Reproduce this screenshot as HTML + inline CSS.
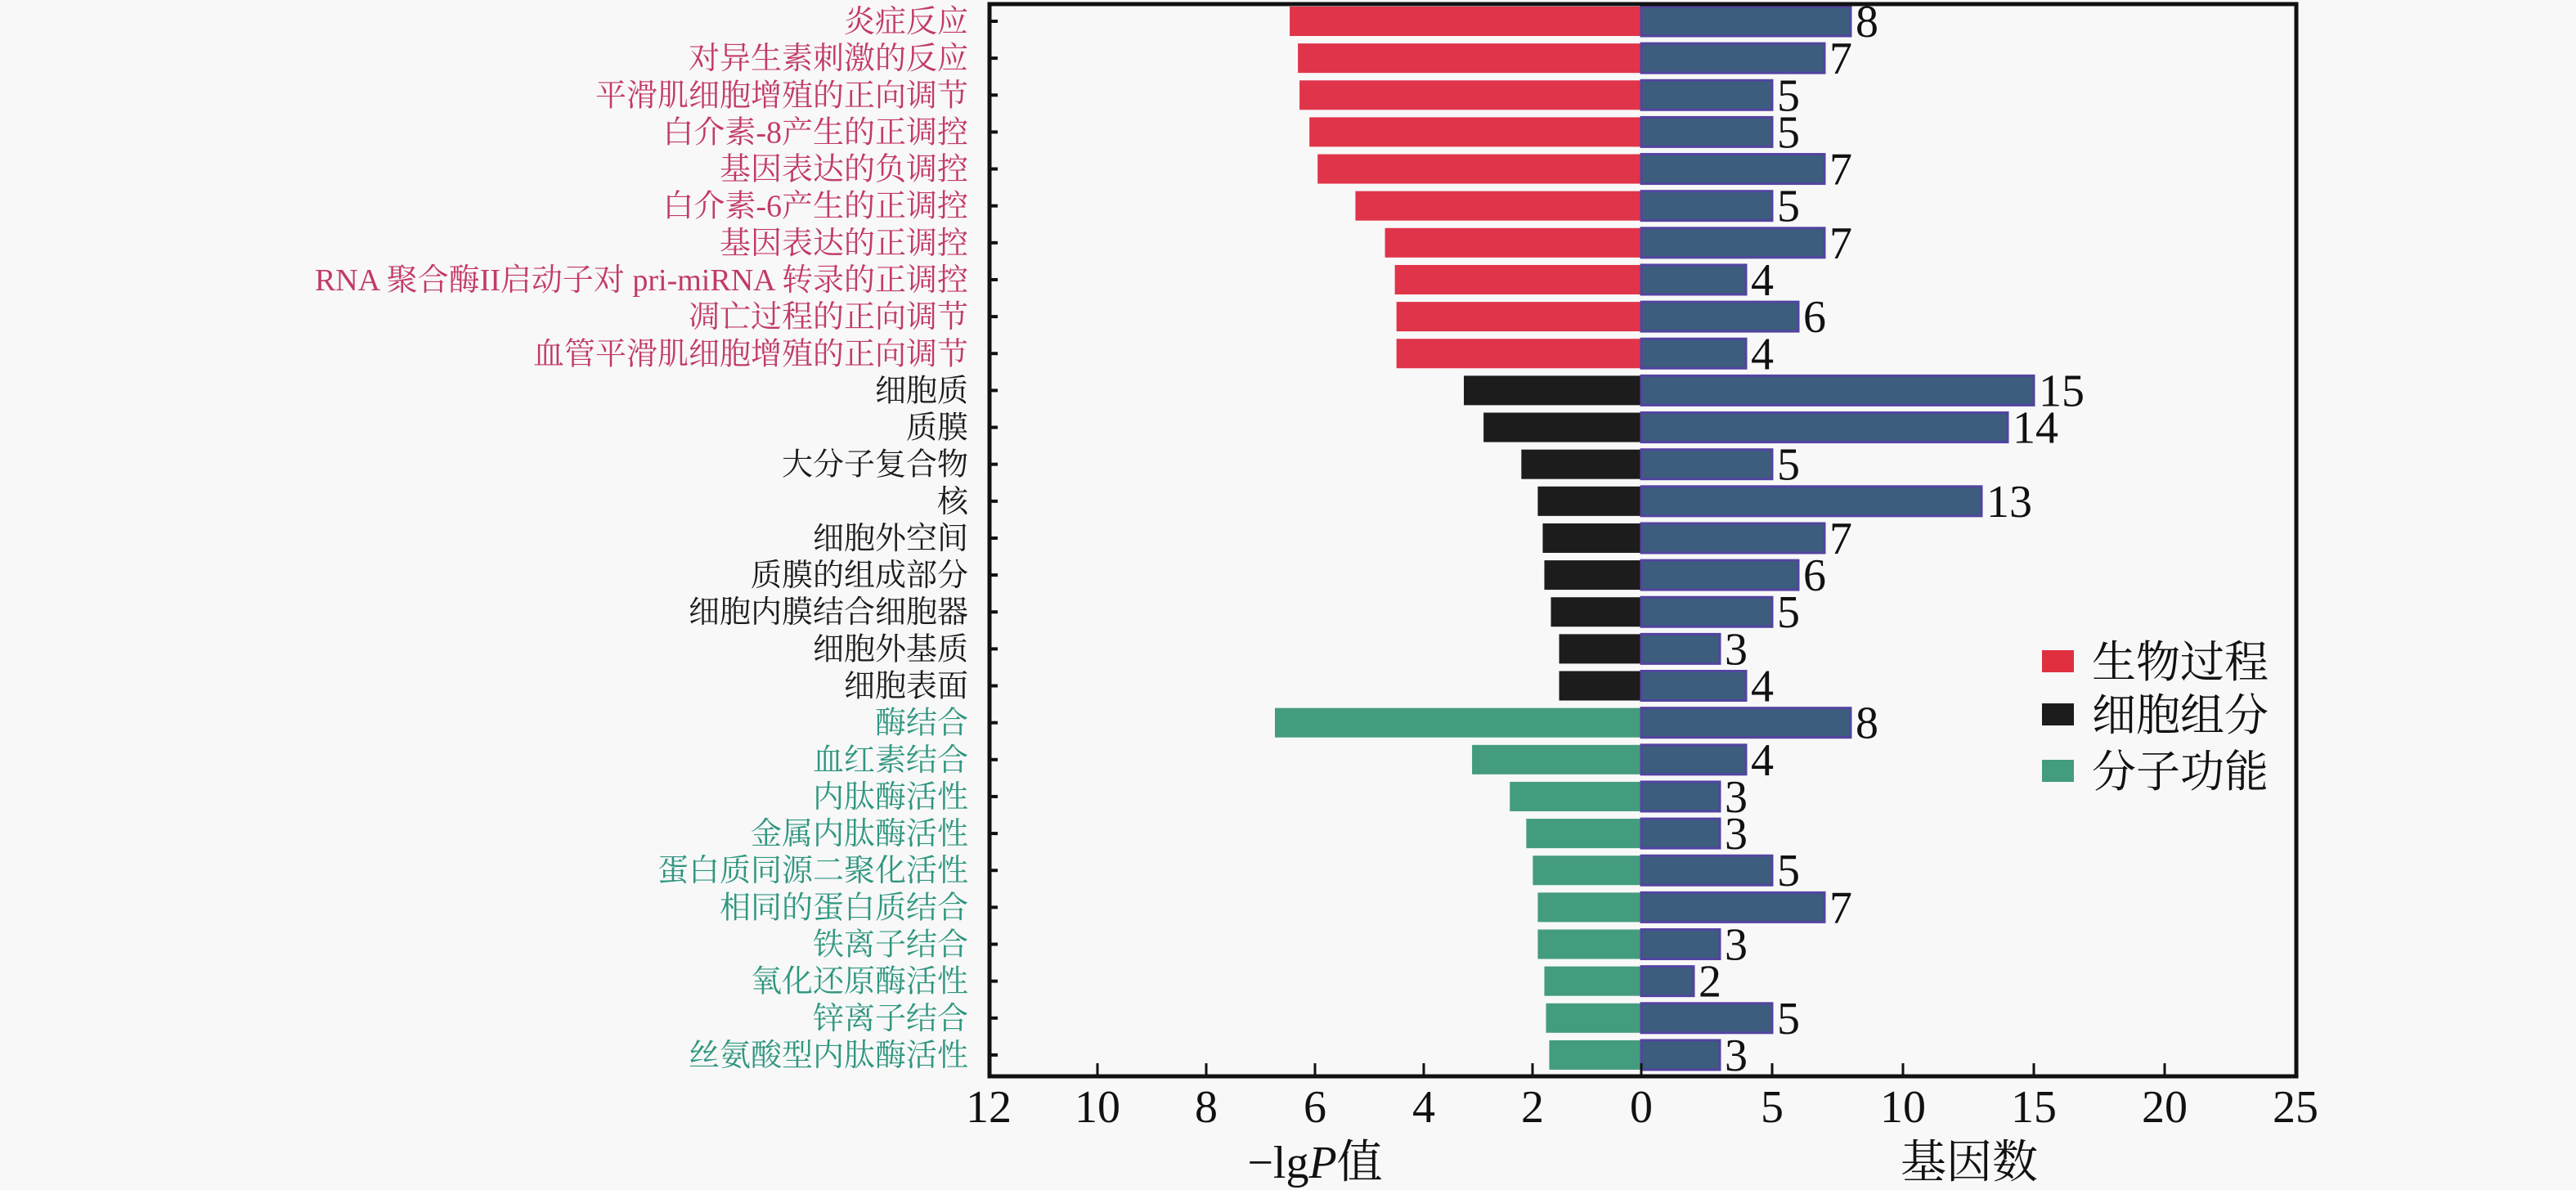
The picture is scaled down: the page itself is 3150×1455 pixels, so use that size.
<!DOCTYPE html>
<html><head><meta charset="utf-8"><style>
html,body{margin:0;padding:0;background:#f8f8f8;}
svg{display:block;}
</style></head><body>
<svg width="3150" height="1455" viewBox="0 0 3150 1455" xmlns="http://www.w3.org/2000/svg">
<rect x="0" y="0" width="3150" height="1455" fill="#f8f8f8"/>
<g id="bars"></g>
<rect x="1210" y="5" width="1598" height="1311" fill="none" stroke="#111" stroke-width="5"/>
<g id="ticks" stroke="#111" stroke-width="3"></g>
<g id="tl" font-family="'Liberation Serif', serif" font-size="56" fill="#111" text-anchor="middle"></g>
<text x="1608" y="1440" font-family="'Liberation Serif', 'Noto Serif CJK SC', serif" font-size="56" text-anchor="middle" fill="#111">−lg<tspan font-style="italic">P</tspan>值</text>
<text x="2408" y="1440" font-family="'Liberation Serif', 'Noto Serif CJK SC', serif" font-size="56" text-anchor="middle" fill="#111">基因数</text>
<rect x="2497" y="795" width="39" height="27" fill="#e0303f"/>
<rect x="2497" y="860" width="39" height="27" fill="#1c1c1c"/>
<rect x="2497" y="929" width="39" height="27" fill="#449c7e"/>
<g font-family="'Liberation Serif', 'Noto Serif CJK SC', serif" font-size="54" fill="#111">
<text x="2558" y="828">生物过程</text>
<text x="2558" y="893">细胞组分</text>
<text x="2558" y="962">分子功能</text>
</g>
</svg>
<script>
var labels=["炎症反应","对异生素刺激的反应","平滑肌细胞增殖的正向调节","白介素-8产生的正调控","基因表达的负调控","白介素-6产生的正调控","基因表达的正调控","RNA 聚合酶II启动子对 pri-miRNA 转录的正调控","凋亡过程的正向调节","血管平滑肌细胞增殖的正向调节",
"细胞质","质膜","大分子复合物","核","细胞外空间","质膜的组成部分","细胞内膜结合细胞器","细胞外基质","细胞表面",
"酶结合","血红素结合","内肽酶活性","金属内肽酶活性","蛋白质同源二聚化活性","相同的蛋白质结合","铁离子结合","氧化还原酶活性","锌离子结合","丝氨酸型内肽酶活性"];
var lefts=[785,790,791,797,802,825,843,849,850,850,891,903,926,936,939,940,944,949,949,776,896,919,929,933,936,936,940,941,943];
var counts=[8,7,5,5,7,5,7,4,6,4,15,14,5,13,7,6,5,3,4,8,4,3,3,5,7,3,2,5,3];
var NS="http://www.w3.org/2000/svg";
function el(t,a,p,txt){var e=document.createElementNS(NS,t);for(var k in a)e.setAttribute(k,a[k]);if(txt!==undefined)e.textContent=txt;p.appendChild(e);return e;}
var g=document.getElementById("bars");
var zero=2007;
for(var i=0;i<29;i++){
 var cy=26+i*45.14, y=cy-18, h=36;
 var col=i<10?"#e0344a":(i<19?"#1c1c1c":"#449c7e");
 var lx=lefts[i]*2.009;
 el("rect",{x:lx,y:y,width:zero-lx,height:h,fill:col},g);
 var rx=zero+counts[i]*32;
 el("rect",{x:zero,y:y,width:rx-zero,height:h,fill:"#3c5d7d",stroke:"#5344a0","stroke-width":3},g);
 el("text",{x:rx+6,y:cy+19,"font-family":"'Liberation Serif', serif","font-size":56,fill:"#111"},g,String(counts[i]));
 var tc=i<10?"#c23a66":(i<19?"#1a1a1a":"#2f9680");
 el("text",{x:1184,y:cy+13,"font-family":"'Liberation Serif', 'Noto Serif CJK SC', serif","font-size":38,fill:tc,"text-anchor":"end"},g,labels[i]);
 el("line",{x1:1210,y1:cy,x2:1220,y2:cy,stroke:"#111","stroke-width":4},g);
}
var tk=document.getElementById("ticks"),tl=document.getElementById("tl");
[12,10,8,6,4,2,0].forEach(function(v){var x=zero-v*66.5;el("line",{x1:x,y1:1316,x2:x,y2:1300},tk);el("text",{x:x,y:1372},tl,String(v));});
[5,10,15,20,25].forEach(function(v){var x=zero+v*32;el("line",{x1:x,y1:1316,x2:x,y2:1300},tk);el("text",{x:x,y:1372},tl,String(v));});
</script>
</body></html>
